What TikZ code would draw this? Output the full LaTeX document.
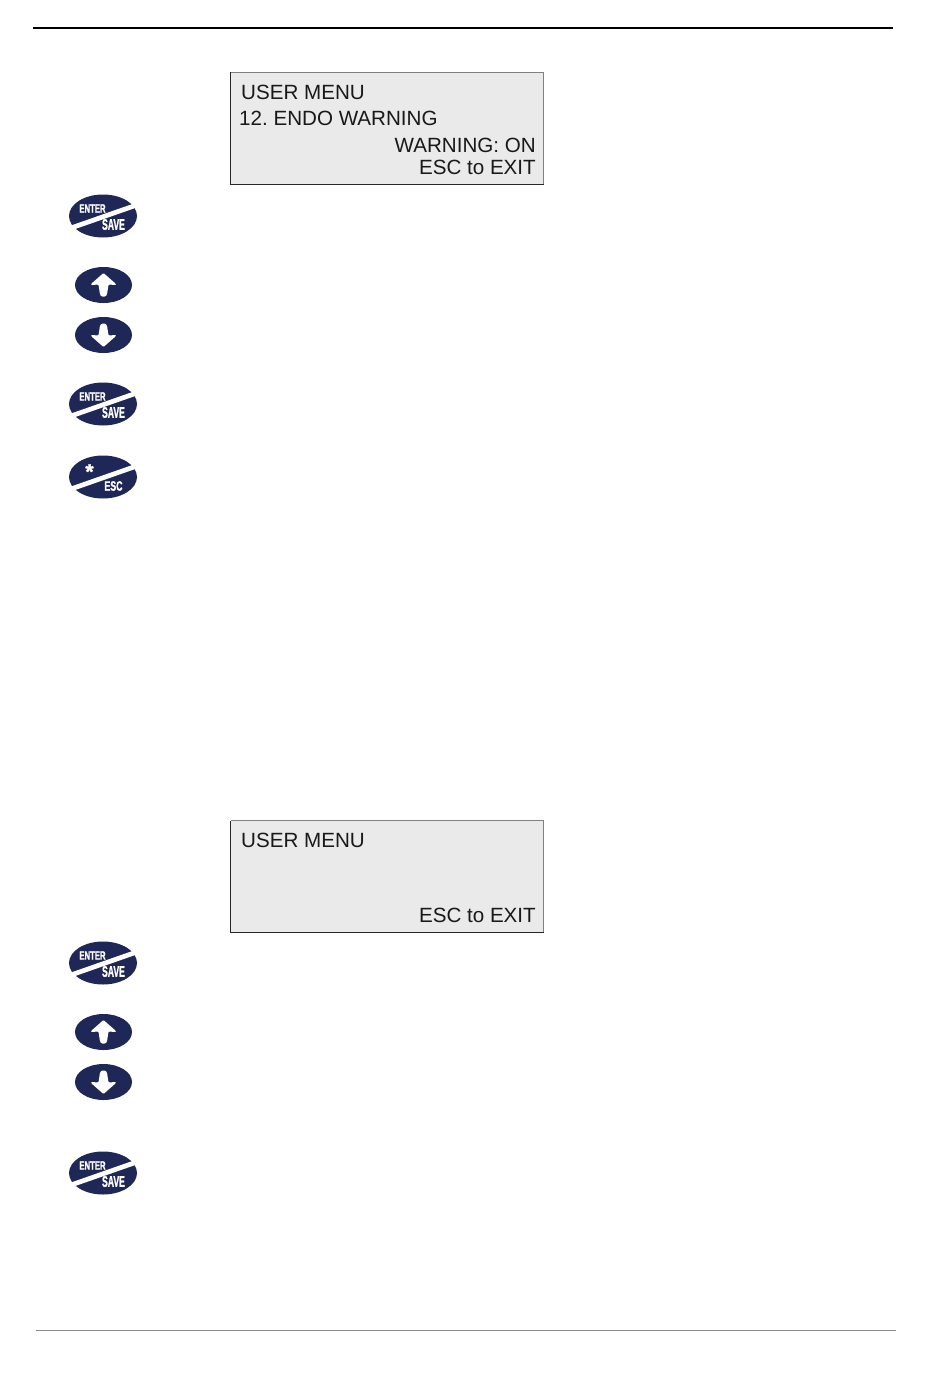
\documentclass[tikz,border=0pt]{standalone}
\usepackage{fontspec}
\setmainfont{Liberation Sans}
\newfontfamily\keyfont[UprightFont=* Bold,FakeBold=1.6]{Liberation Sans}
\definecolor{btn}{HTML}{1F2757}
\definecolor{lcd}{HTML}{EAEAEA}
\tikzset{
  x=1pt,y=-1pt,
  lcdbox/.style={fill=lcd},
  lcdedge/.style={draw=black!85,line width=1pt},
  lcdedgelight/.style={draw=black!50,line width=.7pt},
  lcdtxt/.style={font=\fontsize{20.6}{24}\selectfont,inner sep=0pt,text=black!90},
  entertxt/.style={font=\fontsize{11.9}{13}\keyfont,text=white,inner sep=0pt,xscale=.65},
  savetxt/.style={font=\fontsize{15.4}{16}\keyfont,text=white,inner sep=0pt,xscale=.56},
  esctxt/.style={font=\fontsize{13.5}{15}\keyfont,text=white,inner sep=0pt,xscale=.65},
  splitkey/.pic={
    \fill[btn] (0,0) ellipse [x radius=34,y radius=21.5];
    \fill[white] (-40,12.3) -- (40,-15.7) -- (40,-10.7) -- (-40,17.3) -- cycle;
  },
  enterkey/.pic={
    \pic {splitkey};
    \node[entertxt] (-a) at (-10.5,-7.5) {ENTER};
    \node[savetxt] (-b) at (10.5,8.5) {SAVE};
  },
  esckey/.pic={
    \pic {splitkey};
    \node[font=\fontsize{21}{22}\keyfont,text=white,inner sep=0pt] (-a) at (-13.5,-5.5) {*};
    \node[esctxt] (-b) at (10.5,9) {ESC};
  },
  upkey/.pic={
    \fill[btn] (0,0) ellipse [x radius=28.5,y radius=18];
    \fill[white,rounded corners=1pt] (0,-12) -- (12.5,-1) -- (12,0) -- (5,-0.5) -- (3.5,9.5) -- (2,11.5) -- (-2,11.5) -- (-3.5,9.5) -- (-5,-0.5) -- (-12,0) -- (-12.5,-1) -- cycle;
  },
  downkey/.pic={
    \fill[btn] (0,0) ellipse [x radius=28.5,y radius=18];
    \fill[white,rounded corners=1pt] (0,12) -- (12.5,1) -- (12,0) -- (5,0.5) -- (3.5,-9.5) -- (2,-11.5) -- (-2,-11.5) -- (-3.5,-9.5) -- (-5,0.5) -- (-12,0) -- (-12.5,1) -- cycle;
  },
}
\begin{document}
\begin{tikzpicture}
\useasboundingbox (0,0) rectangle (950,1378);
\fill[white] (0,0) rectangle (950,1378);
\coordinate (ruleAa) at (33,28);
\coordinate (ruleAb) at (893,28);
\draw[line width=2pt,black] (ruleAa) -- (ruleAb);
\coordinate (ruleBa) at (36,1330.5);
\coordinate (ruleBb) at (896,1330.5);
\draw[line width=1pt,black!45] (ruleBa) -- (ruleBb);

\fill[lcdbox] (230.5,72.5) rectangle (543.5,184.5);
\draw[lcdedgelight] (230.5,72.5) -- (543.5,72.5) -- (543.5,184.5);
\draw[lcdedge] (543.5,184.5) -- (230.5,184.5) -- (230.5,72.5);
\node[lcdtxt,anchor=base west] (a1) at (241,100) {USER MENU};
\node[lcdtxt,anchor=base west] (a2) at (239,126) {\frenchspacing 12. ENDO WARNING};
\node[lcdtxt,anchor=base east] (a3) at (536,153) {WARNING: ON};
\node[lcdtxt,anchor=base east] (a4) at (536,174.5) {ESC to EXIT};

\pic (k1) at (103,216) {enterkey};
\pic (k2) at (103.5,285) {upkey};
\pic (k3) at (103.5,335) {downkey};
\pic (k4) at (103,404) {enterkey};
\pic (k5) at (103,477) {esckey};

\fill[lcdbox] (230.5,820.5) rectangle (543.5,932.5);
\draw[lcdedgelight] (230.5,820.5) -- (543.5,820.5) -- (543.5,932.5);
\draw[lcdedge] (543.5,932.5) -- (230.5,932.5) -- (230.5,820.5);
\node[lcdtxt,anchor=base west] (b1) at (241,847) {USER MENU};
\node[lcdtxt,anchor=base east] (b4) at (536,922) {ESC to EXIT};

\pic (m1) at (103,963) {enterkey};
\pic (m2) at (103.5,1032) {upkey};
\pic (m3) at (103.5,1082) {downkey};
\pic (m4) at (103,1173) {enterkey};
\end{tikzpicture}
\end{document}
